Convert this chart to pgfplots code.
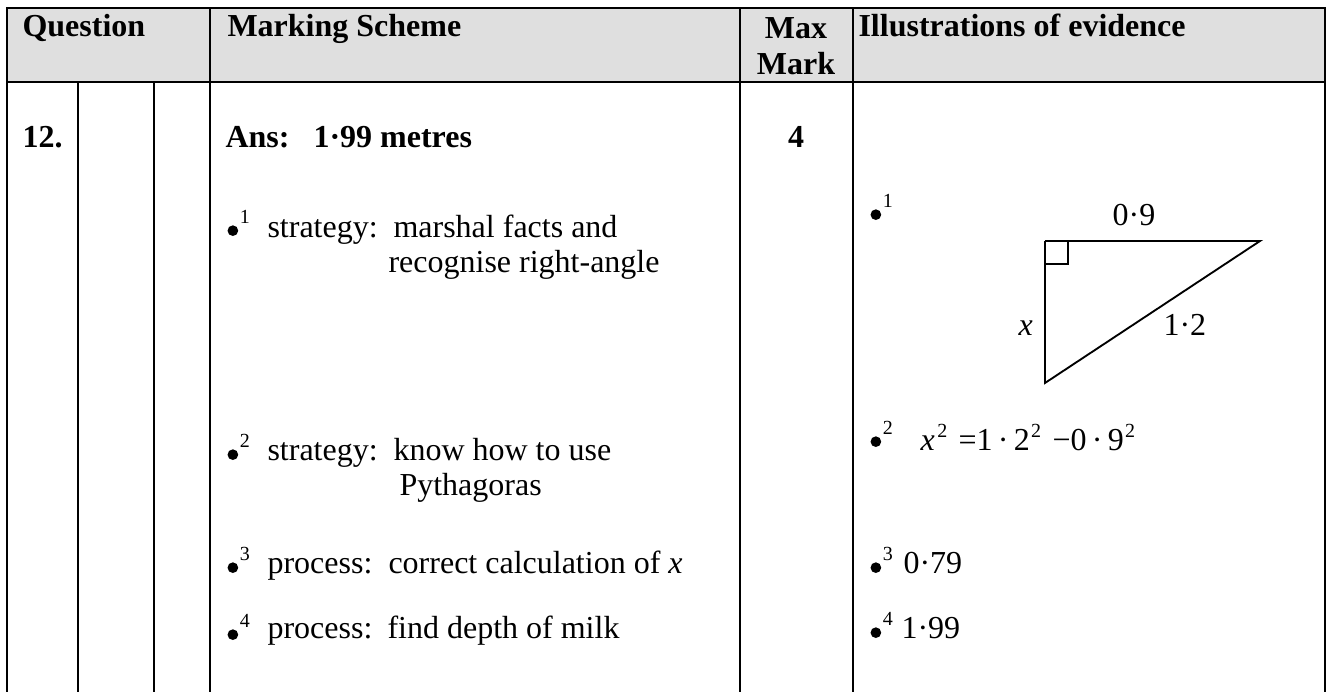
\documentclass[border=0pt]{standalone}
\usepackage{fontspec}
\setmainfont{Liberation Serif}
\usepackage{pgfplots}
\pgfplotsset{compat=1.18}
\definecolor{hdr}{HTML}{DFDFDF}
\newcommand\dotb{\tikz[baseline=0pt]\fill[black] (2pt,2pt) circle (2pt);}
\newcommand\bul[1]{\dotb\kern0.6pt\raisebox{4.8pt}{\fontsize{7.5}{8}\selectfont #1}}
\newcommand\sq{\raisebox{4.6pt}{\fontsize{7.5}{8}\selectfont 2}}
\tikzset{t/.style={font=\fontsize{12}{14}\selectfont, inner sep=0pt, anchor=base west},
         tc/.style={font=\fontsize{12}{14}\selectfont, inner sep=0pt, anchor=base}}
\begin{document}
\begin{tikzpicture}
\begin{axis}[width=498.75pt, height=259.125pt, scale only axis,
  xmin=0, xmax=1330, ymin=0, ymax=691, y dir=reverse,
  hide axis, clip=false,
  tl/.style={black, line width=0.85pt, no markers, line cap=rect}]
% invisible frame to fix bounding box
\addplot[draw=none, no markers] coordinates {(0,0) (1330,691)};
% header background
\addplot[fill=hdr, draw=none, no markers] coordinates {(7,8) (1325,8) (1325,82) (7,82) (7,8)};
% grid lines
\addplot[tl] coordinates {(7,8) (1325,8)};
\addplot[tl] coordinates {(7,82) (1325,82)};
\addplot[tl] coordinates {(7,8) (7,691)};
\addplot[tl] coordinates {(210,8) (210,691)};
\addplot[tl] coordinates {(740,8) (740,691)};
\addplot[tl] coordinates {(853,8) (853,691)};
\addplot[tl] coordinates {(1325,8) (1325,691)};
\addplot[tl] coordinates {(78,82) (78,691)};
\addplot[tl] coordinates {(154,82) (154,691)};
% triangle
\addplot[black, line width=0.7pt, no markers] coordinates {(1045,241) (1260,241) (1045,383) (1045,241)};
\addplot[black, line width=0.7pt, no markers] coordinates {(1045,264) (1068,264) (1068,241)};
% header text
\node[t] at (axis cs:22,37) {\bfseries Question};
\node[t] at (axis cs:227,37) {\bfseries Marking Scheme};
\node[tc] at (axis cs:796,38) {\bfseries Max};
\node[tc] at (axis cs:796,74) {\bfseries Mark};
\node[t] at (axis cs:858,37) {\bfseries Illustrations of evidence};
% row
\node[t] at (axis cs:22,148) {\bfseries 12.};
\node[t] at (axis cs:225,148) {\bfseries Ans:\ \ \ 1·99 metres};
\node[tc] at (axis cs:796,148) {\bfseries 4};
% marking scheme
\node[t] at (axis cs:227,236) {\bul{1}};
\node[t] at (axis cs:267,237) {strategy:};
\node[t] at (axis cs:393,237) {marshal facts and};
\node[t] at (axis cs:388,272) {recognise right-angle};
\node[t] at (axis cs:227,460) {\bul{2}};
\node[t] at (axis cs:267,460) {strategy:};
\node[t] at (axis cs:393,460) {know how to use};
\node[t] at (axis cs:399,495) {Pythagoras};
\node[t] at (axis cs:227,573) {\bul{3}};
\node[t] at (axis cs:267,573) {process:};
\node[t] at (axis cs:388,573) {correct calculation of \textit{x}};
\node[t] at (axis cs:227,640) {\bul{4}};
\node[t] at (axis cs:267,638) {process:};
\node[t] at (axis cs:387,638) {find depth of milk};
% evidence
\node[t] at (axis cs:870,220) {\bul{1}};
\node[tc] at (axis cs:1134,225) {0·9};
\node[t] at (axis cs:1018,335) {\textit{x}};
\node[t] at (axis cs:1163,335) {1·2};
\node[t] at (axis cs:870,447) {\bul{2}};
\node[t] at (axis cs:920,450) {\textit{x}\kern1pt\sq};
\node[t] at (axis cs:958,450) {=1\,·\,2\kern0.5pt\sq};
\node[t] at (axis cs:1052,450) {−0\,·\,9\kern0.5pt\sq};
\node[t] at (axis cs:870,573) {\bul{3}};
\node[t] at (axis cs:903,573) {0·79};
\node[t] at (axis cs:870,638) {\bul{4}};
\node[t] at (axis cs:901,638) {1·99};
\end{axis}
\end{tikzpicture}
\end{document}
